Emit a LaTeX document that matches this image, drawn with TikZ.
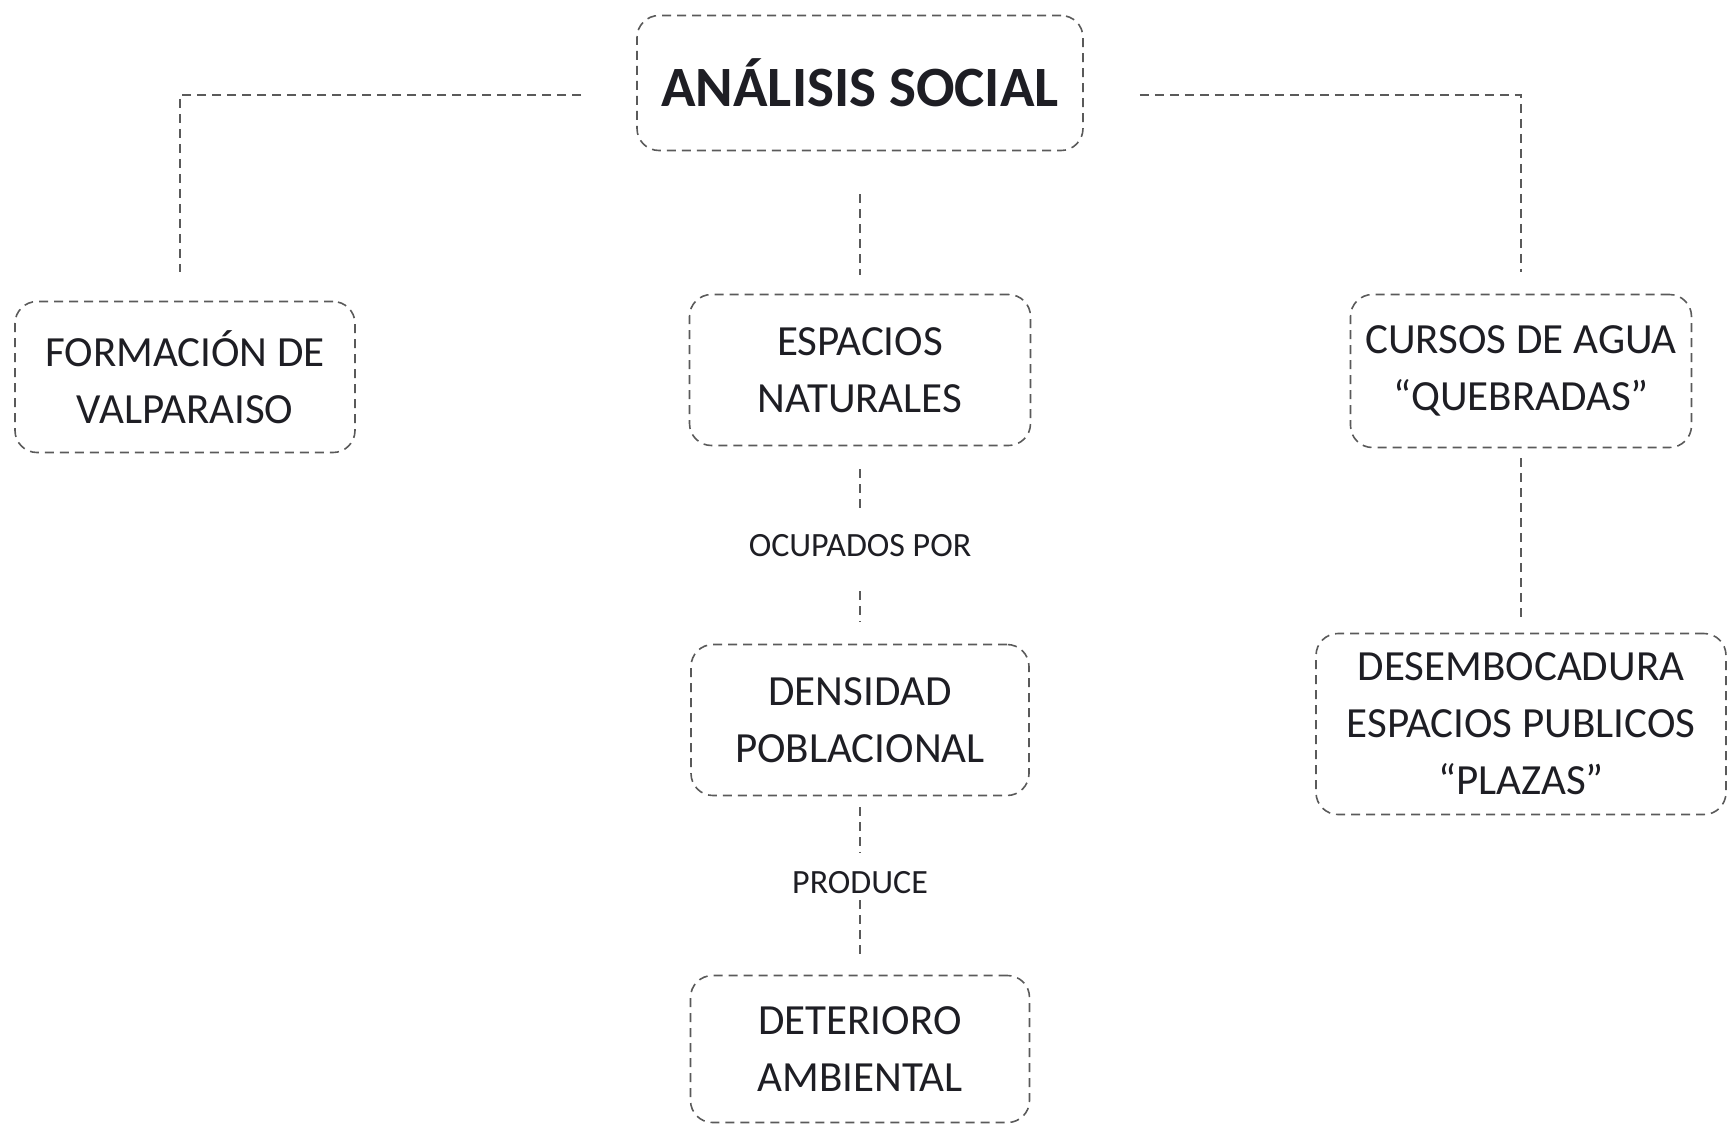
\documentclass[tikz,border=0pt]{standalone}
\usepackage{fontspec}
\setmainfont{Carlito}
\usepackage{tikz}
\definecolor{linea}{HTML}{5A5A5A}
\definecolor{texto}{HTML}{1E1E24}

\begin{document}
\begin{tikzpicture}[x=1pt,y=-1pt,caja/.style n args={2}{draw=linea,dash pattern=on 9pt off 6pt,line width=1.6pt,rounded corners=22pt,minimum width=#1,minimum height=#2,align=center,text=texto,font=\fontsize{43}{57}\selectfont},enlace/.style={draw=linea,dash pattern=on 9pt off 6pt,line width=1.6pt},rotulo/.style={text=texto,font=\fontsize{34}{40}\selectfont,inner sep=0pt}]
\useasboundingbox (0,0) rectangle (1731,1125);
\node[caja={446pt}{135pt},font=\bfseries\fontsize{57}{68}\selectfont] (analisis) at (860,83) {ANÁLISIS SOCIAL};
\node[caja={340pt}{151pt}] (formacion) at (185,377) {FORMACIÓN DE\\VALPARAISO};
\node[caja={341pt}{151pt}] (espacios) at (860,370) {ESPACIOS\\NATURALES};
\node[caja={341pt}{153pt}] (cursos) at (1521,371) {CURSOS DE AGUA\\“QUEBRADAS”};
\node[caja={338pt}{151pt}] (densidad) at (860,720) {DENSIDAD\\POBLACIONAL};
\node[caja={339pt}{147pt}] (deterioro) at (860,1049) {DETERIORO\\AMBIENTAL};
\node[caja={410pt}{181pt}] (desembocadura) at (1521,724) {DESEMBOCADURA\\ESPACIOS PUBLICOS\\“PLAZAS”};
\node[rotulo] (ocupados) at (860,546) {OCUPADOS POR};
\node[rotulo] (produce) at (860,883) {PRODUCE};
\draw[enlace,shorten <=55pt,shorten >=29pt] ([yshift=-12pt]analisis.west) -| ([xshift=-5pt]formacion.north);
\draw[enlace,shorten <=56pt,shorten >=22pt] ([yshift=-12pt]analisis.east) -| (cursos.north);
\foreach \a/\b/\s/\e in %
{analisis/espacios/43pt/19pt,espacios/ocupados/23pt/22pt,ocupados/densidad/34pt/22pt,densidad/produce/11pt/19pt,produce/deterioro/6pt/15pt,cursos/desembocadura/10pt/10pt} {
   \draw[enlace,shorten <=\s,shorten >=\e] (\a) -- (\b);
}
\end{tikzpicture}
\end{document}
